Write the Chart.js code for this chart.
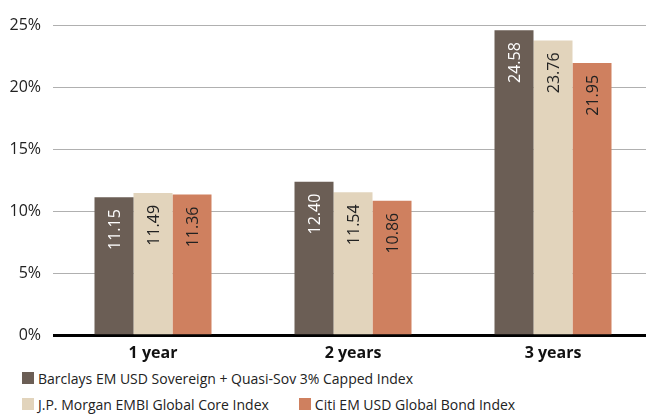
<!DOCTYPE html>
<html>
<head>
<meta charset="utf-8">
<script src="https://cdn.jsdelivr.net/npm/chart.js@4/dist/chart.umd.min.js"></script>
<style>
  body { margin: 0; background: #fff; overflow: hidden; font-family: "Open Sans", sans-serif; }
  #wrap { width: 653px; height: 363px; }
  #legend { position: absolute; left: 22px; top: 365px; font-size: 14px; color: #222; }
  .row { display: flex; height: 26px; align-items: center; }
  .item { display: flex; align-items: center; margin-right: 30px; }
  .box { width: 12px; height: 12px; margin-right: 4px; }
</style>
</head>
<body>
<div id="wrap"><canvas id="chart"></canvas></div>
<div id="legend"></div>
<script>
const categories = ["1 year", "2 years", "3 years"];
const seriesNames = [
  "Barclays EM USD Sovereign + Quasi-Sov 3% Capped Index",
  "J.P. Morgan EMBI Global Core Index",
  "Citi EM USD Global Bond Index",
];
const barclays = [11.15, 12.40, 24.58];
const jpMorgan = [11.49, 11.54, 23.76];
const citi = [11.36, 10.86, 21.95];
const yTicks = [0, 5, 10, 15, 20, 25];

const colors = ["#6b5e55", "#e2d4bc", "#cf805f"];
const labelColors = ["#ffffff", "#222222", "#222222"];

// value labels, rotated, hanging from the top of each bar
const barLabels = {
  id: "barLabels",
  afterDatasetsDraw(chart) {
    const ctx = chart.ctx;
    chart.data.datasets.forEach((ds, i) => {
      chart.getDatasetMeta(i).data.forEach((bar, j) => {
        ctx.save();
        ctx.translate(bar.x, bar.y + 12);
        ctx.rotate(-Math.PI / 2);
        ctx.font = '16px "Open Sans"';
        ctx.fillStyle = labelColors[i];
        ctx.textAlign = "right";
        ctx.textBaseline = "middle";
        ctx.fillText(ds.data[j].toFixed(2), 0, 1);
        ctx.restore();
      });
    });
  },
};

const chart = new Chart(document.getElementById("chart"), {
  type: "bar",
  data: {
    labels: categories,
    datasets: [barclays, jpMorgan, citi].map((data, i) => ({
      label: seriesNames[i],
      data: data,
      backgroundColor: colors[i],
      categoryPercentage: 0.585,
      barPercentage: 1,
    })),
  },
  options: {
    responsive: true,
    maintainAspectRatio: false,
    animation: false,
    layout: { padding: { top: 25, right: 0, bottom: 0, left: 0 } },
    plugins: {
      legend: { display: false },
      tooltip: { enabled: false },
    },
    scales: {
      x: {
        grid: { display: false },
        border: { display: false },
        ticks: {
          color: "#111",
          padding: 0,
          font: { family: "Open Sans", size: 16, weight: "bold" },
        },
      },
      y: {
        min: 0,
        max: 25,
        afterBuildTicks: (scale) => {
          scale.ticks = yTicks.map((v) => ({ value: v }));
        },
        afterFit: (scale) => {
          scale.width = 53;
        },
        border: { display: false },
        grid: {
          drawTicks: false,
          color: (c) => (c.tick.value === 0 ? "#000" : "#b0b0b0"),
          lineWidth: (c) => (c.tick.value === 0 ? 3 : 1),
        },
        ticks: {
          color: "#222",
          padding: 12,
          font: { family: "Open Sans", size: 16 },
          callback: (v) => v + "%",
        },
      },
    },
  },
  plugins: [barLabels],
});

// legend: first series alone on the top row, the other two below
const legend = document.getElementById("legend");
[[0], [1, 2]].forEach((row) => {
  const r = document.createElement("div");
  r.className = "row";
  row.forEach((i) => {
    const item = document.createElement("div");
    item.className = "item";
    item.innerHTML = '<span class="box" style="background:' + colors[i] + '"></span>' + seriesNames[i];
    r.appendChild(item);
  });
  legend.appendChild(r);
});
</script>
</body>
</html>
